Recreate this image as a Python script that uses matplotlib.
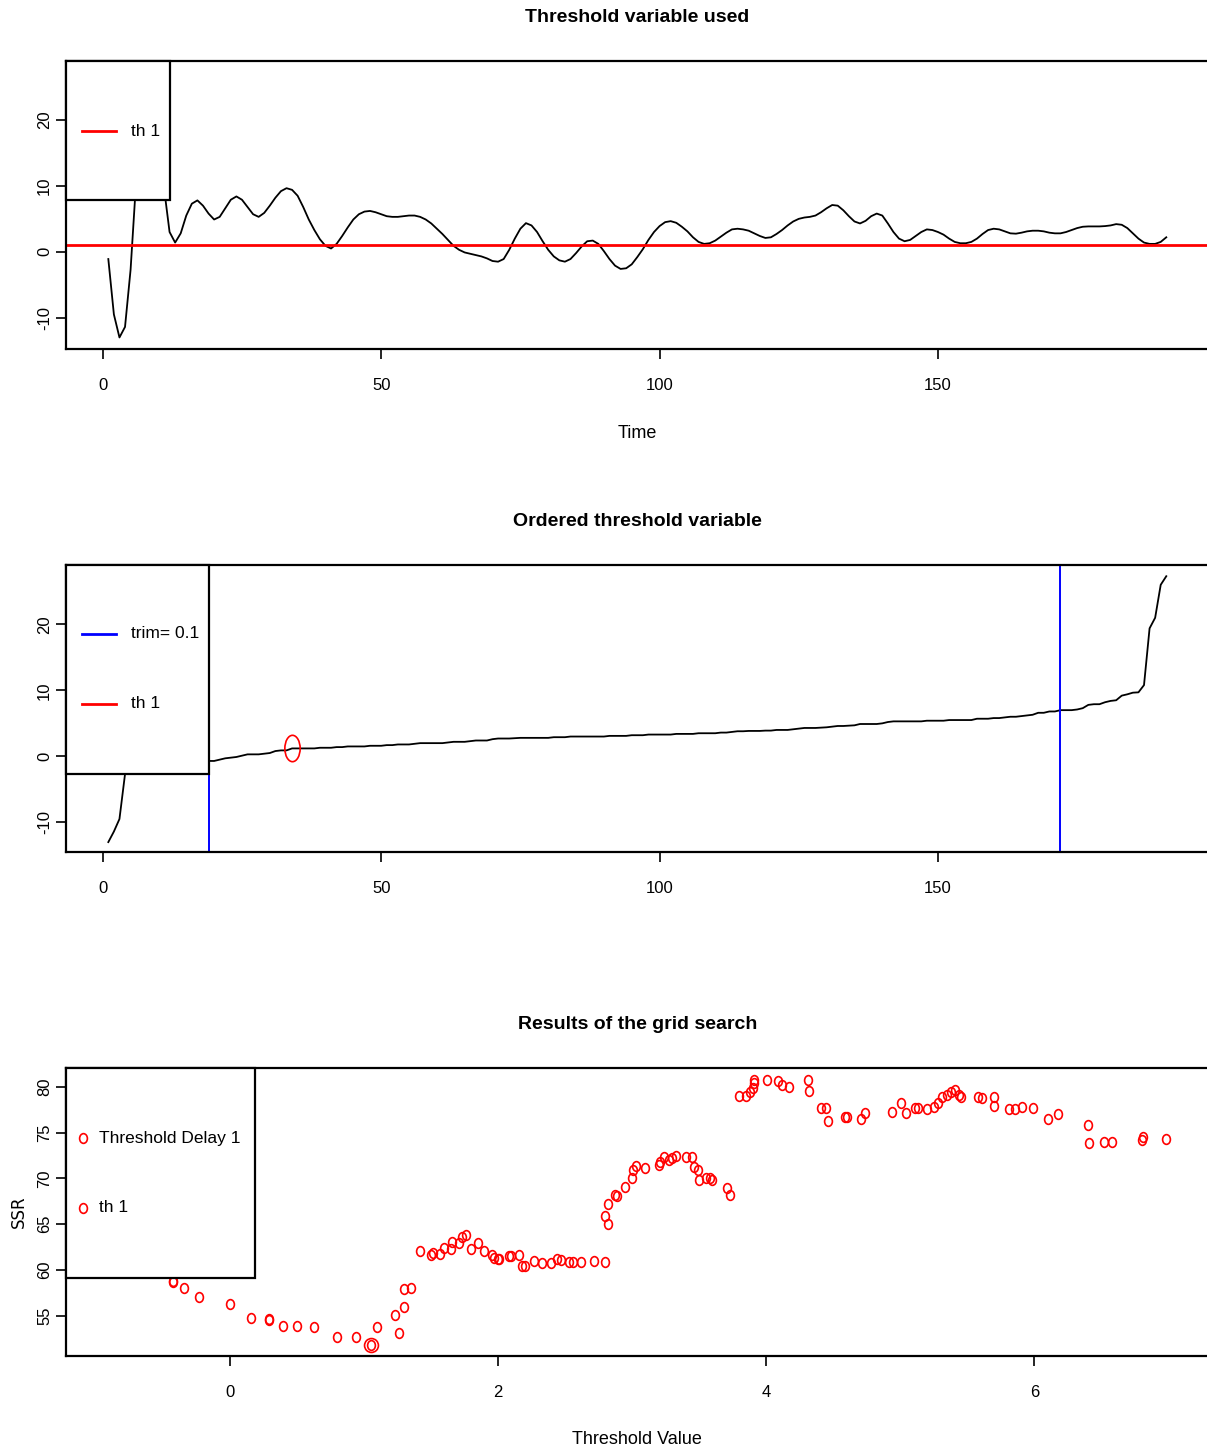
import matplotlib
matplotlib.use("Agg")
import matplotlib.pyplot as plt
import numpy as np
from matplotlib.lines import Line2D
from matplotlib.patches import Rectangle
from matplotlib.path import Path

# threshold variable, t = 1..191
th_var = [
    -1.1, -9.5, -13.0, -11.4, -2.7, 10.8, 19.4, 27.3, 26.0, 21.0,
    9.7, 3.0, 1.4, 2.8, 5.5, 7.3, 7.8, 7.0, 5.8, 4.9,
    5.3, 6.6, 7.9, 8.4, 7.9, 6.8, 5.7, 5.3, 5.9, 7.0,
    8.2, 9.2, 9.65, 9.4, 8.5, 6.8, 4.9, 3.3, 1.9, 0.9,
    0.5, 1.2, 2.4, 3.7, 4.9, 5.7, 6.1, 6.2, 6.0, 5.7,
    5.4, 5.3, 5.3, 5.4, 5.5, 5.5, 5.3, 4.9, 4.3, 3.5,
    2.7, 1.8, 0.9, 0.3, -0.1, -0.3, -0.5, -0.7, -1.0, -1.4,
    -1.5, -1.1, 0.3, 2.0, 3.5, 4.35, 4.0, 3.0, 1.6, 0.3,
    -0.7, -1.3, -1.5, -1.1, -0.2, 0.8, 1.6, 1.7, 1.2, 0.1,
    -1.1, -2.1, -2.6, -2.5, -1.9, -0.8, 0.4, 1.8, 3.0, 3.9,
    4.5, 4.65, 4.4, 3.8, 3.1, 2.2, 1.5, 1.2, 1.3, 1.7,
    2.3, 2.9, 3.4, 3.5, 3.4, 3.2, 2.8, 2.4, 2.1, 2.2,
    2.7, 3.3, 4.0, 4.6, 5.0, 5.2, 5.3, 5.5, 6.0, 6.6,
    7.1, 7.0, 6.3, 5.4, 4.6, 4.3, 4.7, 5.4, 5.8, 5.5,
    4.3, 3.0, 2.0, 1.6, 1.8, 2.4, 3.0, 3.4, 3.3, 3.0,
    2.6, 2.0, 1.5, 1.3, 1.3, 1.5, 2.0, 2.7, 3.3, 3.5,
    3.4, 3.1, 2.8, 2.75, 2.9, 3.1, 3.2, 3.2, 3.1, 2.9,
    2.8, 2.8, 3.0, 3.3, 3.6, 3.8, 3.85, 3.85, 3.85, 3.9,
    4.0, 4.2, 4.1, 3.6, 2.8, 2.0, 1.4, 1.2, 1.2, 1.5,
    2.2,
]
th_value = 1.06
th_rank = 34
trim_lo, trim_hi = 19, 172

# grid search results
grid_th = [
    -0.42, -0.42, -0.34, -0.23, 0.0, 0.16, 0.29, 0.29, 0.40, 0.50,
    0.63, 0.80, 0.94, 1.055, 1.10, 1.23, 1.26, 1.30, 1.30, 1.35,
    1.42, 1.50, 1.52, 1.57, 1.60, 1.65, 1.66, 1.71, 1.73, 1.76,
    1.80, 1.85, 1.90, 1.96, 1.97, 2.0, 2.01, 2.085, 2.10, 2.16,
    2.18, 2.20, 2.27, 2.33, 2.40, 2.44, 2.47, 2.53, 2.56, 2.62,
    2.72, 2.80, 2.80, 2.82, 2.82, 2.87, 2.89, 2.95, 3.00, 3.01,
    3.03, 3.10, 3.20, 3.21, 3.24, 3.28, 3.30, 3.33, 3.40, 3.45,
    3.46, 3.49, 3.50, 3.55, 3.58, 3.60, 3.71, 3.73, 3.80, 3.85,
    3.88, 3.90, 3.91, 3.91, 4.01, 4.09, 4.12, 4.17, 4.31, 4.32,
    4.41, 4.45, 4.46, 4.59, 4.60, 4.71, 4.74, 4.94, 5.01, 5.04,
    5.11, 5.13, 5.20, 5.25, 5.28, 5.31, 5.35, 5.38, 5.41, 5.44,
    5.45, 5.58, 5.61, 5.70, 5.70, 5.81, 5.86, 5.91, 5.99, 6.10,
    6.18, 6.40, 6.41, 6.52, 6.58, 6.80, 6.81, 6.98,
]
grid_ssr = [
    58.8, 58.7, 58.0, 57.0, 56.3, 54.8, 54.6, 54.5, 53.9, 53.9,
    53.8, 52.7, 52.7, 51.8, 53.8, 55.1, 53.1, 56.0, 57.9, 58.0,
    62.1, 61.6, 61.9, 61.8, 62.35, 62.3, 63.1, 63.0, 63.65, 63.8,
    62.3, 62.9, 62.1, 61.65, 61.3, 61.2, 61.2, 61.5, 61.55, 61.65,
    60.45, 60.45, 61.0, 60.8, 60.75, 61.2, 61.1, 60.9, 60.9, 60.9,
    61.0, 60.9, 65.9, 65.0, 67.2, 68.2, 68.1, 69.05, 70.0, 70.9,
    71.4, 71.1, 71.5, 71.85, 72.3, 72.0, 72.2, 72.4, 72.3, 72.3,
    71.2, 70.9, 69.8, 70.1, 70.1, 69.85, 68.95, 68.2, 79.0, 79.0,
    79.5, 79.85, 80.4, 80.75, 80.8, 80.65, 80.2, 80.0, 80.75, 79.6,
    77.7, 77.7, 76.3, 76.75, 76.7, 76.5, 77.1, 77.3, 78.2, 77.2,
    77.7, 77.7, 77.6, 77.8, 78.2, 78.9, 79.1, 79.5, 79.7, 79.1,
    78.9, 78.9, 78.8, 78.9, 77.9, 77.6, 77.6, 77.8, 77.75, 76.5,
    77.05, 75.8, 73.9, 73.95, 73.95, 74.2, 74.5, 74.3,
]
best_th, best_ssr = 1.055, 51.8

W, H = 1207, 1449
LEFT, RIGHT = 66, 1208.6
plt.rcParams["font.family"] = ["Liberation Sans", "DejaVu Sans"]

fig = plt.figure(figsize=(W / 100, H / 100), dpi=100)
ax_top, ax_bottom = {}, {}


def make_axes(top, bottom):
    ax = fig.add_axes([LEFT / W, 1 - bottom / H, (RIGHT - LEFT) / W, (bottom - top) / H])
    ax_top[ax], ax_bottom[ax] = top, bottom
    return ax


def style(ax):
    for s in ax.spines.values():
        s.set_linewidth(1.6)
    ax.tick_params(direction="out", length=7, width=1.2, labelsize=12)
    ax.tick_params(axis="x", pad=14)
    ax.tick_params(axis="y", labelrotation=90, pad=3)
    for lab in ax.get_yticklabels():
        lab.set_verticalalignment("center")


circ = Path.unit_circle()
oval = Path(circ.vertices * np.array([0.8, 1.0]), circ.codes)
big_oval = Path(circ.vertices * np.array([0.58, 1.0]), circ.codes)


def legend_box(ax, bottom, right, entries):
    # box and entries placed in figure pixels of the panel
    h = ax_bottom[ax] - ax_top[ax]
    fx = lambda px: (px - LEFT) / (RIGHT - LEFT)
    fy = lambda py: (ax_bottom[ax] - py) / h
    ax.add_patch(Rectangle((0, fy(bottom)), fx(right), 1 - fy(bottom), transform=ax.transAxes,
                           facecolor="white", edgecolor="black", lw=1.6, zorder=5, clip_on=False))
    for py, kind, color, label, tx in entries:
        if kind == "line":
            ax.add_line(Line2D([fx(82), fx(116)], [fy(py), fy(py)], transform=ax.transAxes,
                               color=color, lw=2, zorder=6))
        else:
            ax.add_line(Line2D([fx(83)], [fy(py)], transform=ax.transAxes, marker=oval,
                               ms=7, mfc="none", mec=color, mew=1.2, ls="none", zorder=6))
        ax.text(fx(tx), fy(py), label, transform=ax.transAxes, fontsize=12.5,
                va="center", ha="left", zorder=6)


t = np.arange(1, len(th_var) + 1)
ordered = np.sort(th_var)

# panel 1: threshold variable over time
ax1 = make_axes(61, 349)
ax1.plot(t, th_var, color="black", lw=1.3)
ax1.axhline(th_value, color="red", lw=2)
ax1.set_xlim(-6.6, 198.6)
ax1.set_ylim(-14.75, 28.95)
ax1.set_xticks([0, 50, 100, 150])
ax1.set_yticks([-10, 0, 10, 20])
ax1.set_yticklabels(["-10", "0", "10", "20"])
style(ax1)
ax1.set_title("Threshold variable used", fontsize=14, fontweight="bold", pad=28)
ax1.set_xlabel("Time", fontsize=13, labelpad=23)
legend_box(ax1, 200, 170, [(131, "line", "red", "th 1", 131)])

# panel 2: ordered threshold variable
ax2 = make_axes(565, 852)
ax2.plot(t, ordered, color="black", lw=1.3)
ax2.axvline(trim_lo, color="blue", lw=1.4)
ax2.axvline(trim_hi, color="blue", lw=1.4)
ax2.plot([th_rank], [ordered[th_rank - 1]], marker=big_oval, ms=19, mfc="none",
         mec="red", mew=1.2, ls="none")
ax2.set_xlim(-6.6, 198.6)
ax2.set_ylim(-14.5, 29.0)
ax2.set_xticks([0, 50, 100, 150])
ax2.set_yticks([-10, 0, 10, 20])
ax2.set_yticklabels(["-10", "0", "10", "20"])
style(ax2)
ax2.set_title("Ordered threshold variable", fontsize=14, fontweight="bold", pad=28)
legend_box(ax2, 774, 209, [(634, "line", "blue", "trim= 0.1", 131),
                           (704, "line", "red", "th 1", 131)])

# panel 3: grid search
ax3 = make_axes(1068, 1356)
ax3.plot(grid_th, grid_ssr, marker=oval, ms=7, mfc="none", mec="red", mew=1.2, ls="none")
ax3.plot([best_th], [best_ssr], marker="o", ms=10, mfc="none", mec="red", mew=1.2, ls="none")
ax3.set_xlim(-1.22, 7.30)
ax3.set_ylim(50.6, 82.07)
ax3.set_xticks([0, 2, 4, 6])
ax3.set_yticks([55, 60, 65, 70, 75, 80])
style(ax3)
ax3.set_title("Results of the grid search", fontsize=14, fontweight="bold", pad=28)
ax3.set_xlabel("Threshold Value", fontsize=13, labelpad=22)
ax3.set_ylabel("SSR", fontsize=12, labelpad=7, family="DejaVu Sans")
legend_box(ax3, 1278, 255, [(1138, "point", "red", "Threshold Delay 1", 99),
                            (1208, "point", "red", "th 1", 99)])

fig.savefig("out.png", dpi=100)
